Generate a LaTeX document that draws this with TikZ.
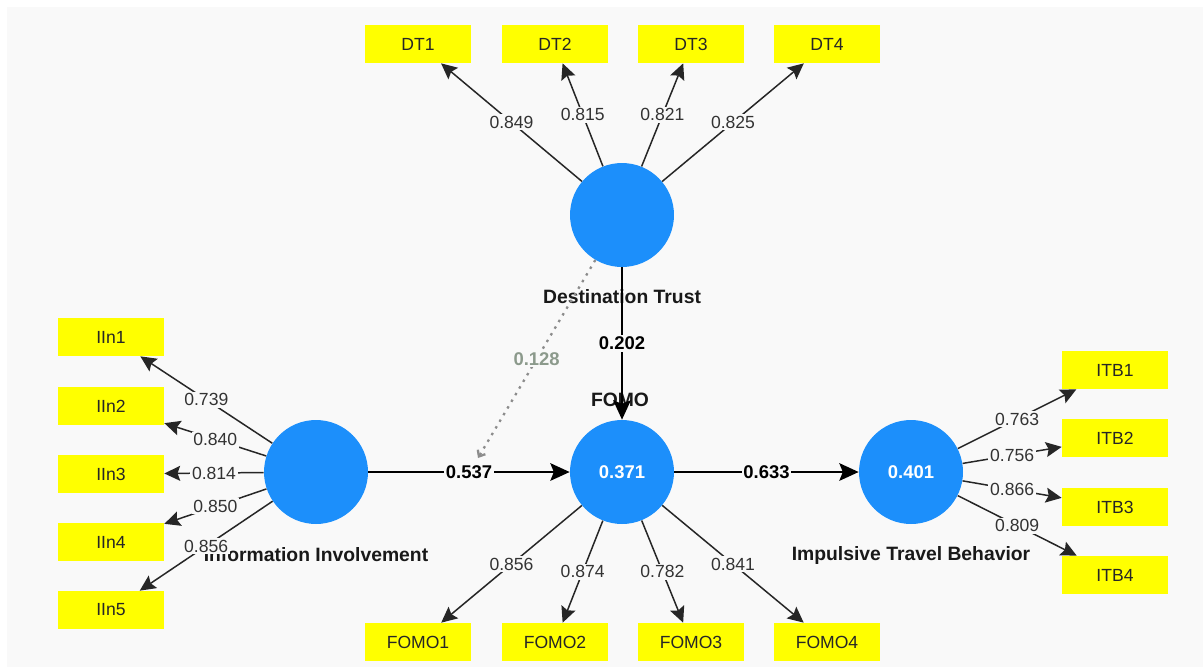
\documentclass[tikz,border=0pt]{standalone}
\usepackage{fontspec}
\setmainfont{Liberation Sans}
\usepackage{xcolor}
\usepackage{tikz}
\usetikzlibrary{positioning,arrows.meta}
\definecolor{canvas}{HTML}{F9F9F9}
\definecolor{lvblue}{HTML}{1C8FFB}
\definecolor{mvyellow}{HTML}{FFFF00}
\definecolor{modgray}{HTML}{8C9A8C}

\begin{document}
\begin{tikzpicture}[
  x=0.02cm, y=-0.02cm,
  latent/.style={circle, fill=lvblue, minimum size=2.08cm, inner sep=0pt, text=white, font=\fontsize{10.5}{12}\selectfont\bfseries},
  indicator/.style={rectangle, fill=mvyellow, minimum width=2.12cm, minimum height=0.76cm, inner sep=0pt, text=black!85, font=\fontsize{10}{12}\selectfont},
  lvname/.style={font=\fontsize{11}{13}\selectfont\bfseries, text=black!90},
  loading/.style={draw=black!85, line width=0.85pt, -{Stealth[length=9pt,width=8.5pt,inset=1.5pt]}},
  structpath/.style={draw=black, line width=1.2pt, -{Stealth[length=11pt,width=10pt,inset=2pt]}},
  modline/.style={draw=black!45, line width=1.3pt, dash pattern=on 1.4pt off 3pt, -{Straight Barb[length=3pt,width=5pt]}},
  coef/.style={fill=canvas, inner sep=1pt, text=black!80, font=\fontsize{10}{12}\selectfont},
  pathcoef/.style={fill=canvas, inner sep=1pt, font=\fontsize{10.5}{12}\selectfont\bfseries},
  modcoef/.style={fill=canvas, inner sep=1pt, text=modgray, font=\fontsize{10.5}{12}\selectfont\bfseries}
]
  % canvas
  \fill[white] (0,0) rectangle (1203,667);
  \fill[canvas] (7,7) rectangle (1203,667);

  % construct names (under the connectors)
  \node[lvname] (DTname) at (622,297) {Destination Trust};
  \node[lvname] (FOMOname) at (620,400) {FOMO};
  \node[lvname] (IIname) at (316,555) {Information Involvement};
  \node[lvname] (ITBname) at (911,555) {Impulsive Travel Behavior};

  % constructs
  \node[latent] (DT) at (622,215) {};
  \node[latent] (II) at (316,472) {};
  \node[latent] (FOMO) at (622,472) {0.371};
  \node[latent] (ITB) at (911,472) {0.401};

  % indicators
  \node[indicator] (DT1) at (418,44) {DT1};
  \node[indicator] (DT2) at (555,44) {DT2};
  \node[indicator] (DT3) at (691,44) {DT3};
  \node[indicator] (DT4) at (827,44) {DT4};
  \node[indicator] (IIn1) at (111,337) {IIn1};
  \node[indicator] (IIn2) at (111,406) {IIn2};
  \node[indicator] (IIn3) at (111,474) {IIn3};
  \node[indicator] (IIn4) at (111,542) {IIn4};
  \node[indicator] (IIn5) at (111,610) {IIn5};
  \node[indicator] (FOMO1) at (418,642) {FOMO1};
  \node[indicator] (FOMO2) at (555,642) {FOMO2};
  \node[indicator] (FOMO3) at (691,642) {FOMO3};
  \node[indicator] (FOMO4) at (827,642) {FOMO4};
  \node[indicator] (ITB1) at (1115,370) {ITB1};
  \node[indicator] (ITB2) at (1115,438) {ITB2};
  \node[indicator] (ITB3) at (1115,507) {ITB3};
  \node[indicator] (ITB4) at (1115,575) {ITB4};

  % outer loadings
  \draw[loading] (DT) -- node[coef] {0.849} (DT1);
  \draw[loading] (DT) -- node[coef] {0.815} (DT2);
  \draw[loading] (DT) -- node[coef] {0.821} (DT3);
  \draw[loading] (DT) -- node[coef] {0.825} (DT4);
  \draw[loading] (II) -- node[coef] {0.739} (IIn1);
  \draw[loading] (II) -- node[coef] {0.840} (IIn2);
  \draw[loading] (II) -- node[coef] {0.814} (IIn3);
  \draw[loading] (II) -- node[coef] {0.850} (IIn4);
  \draw[loading] (II) -- node[coef] {0.856} (IIn5);
  \draw[loading] (FOMO) -- node[coef] {0.856} (FOMO1);
  \draw[loading] (FOMO) -- node[coef] {0.874} (FOMO2);
  \draw[loading] (FOMO) -- node[coef] {0.782} (FOMO3);
  \draw[loading] (FOMO) -- node[coef] {0.841} (FOMO4);
  \draw[loading] (ITB) -- node[coef] {0.763} (ITB1);
  \draw[loading] (ITB) -- node[coef] {0.756} (ITB2);
  \draw[loading] (ITB) -- node[coef] {0.866} (ITB3);
  \draw[loading] (ITB) -- node[coef] {0.809} (ITB4);

  % inner model
  \draw[structpath] (II) -- node[pathcoef] {0.537} (FOMO);
  \draw[structpath] (FOMO) -- node[pathcoef] {0.633} (ITB);
  \draw[structpath] (DT) -- node[pathcoef] {0.202} (FOMO);

  % moderating effect
  \coordinate (modend) at (478,458);
  \draw[modline] (DT) -- node[modcoef] {0.128} (modend);
\end{tikzpicture}
\end{document}
